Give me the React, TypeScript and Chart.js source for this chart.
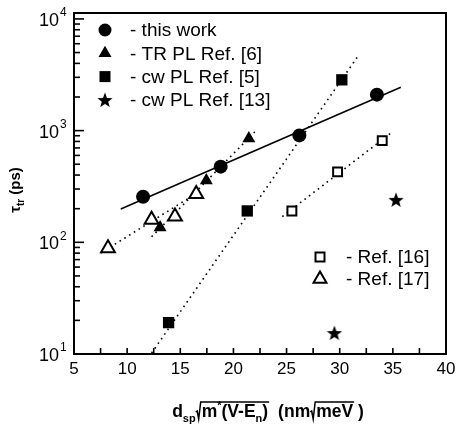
import React, { useEffect, useRef } from 'react';
import { Chart, registerables } from 'chart.js';
Chart.register(...registerables);

// ---- data ----
const thisWorkX = [11.5, 18.8, 26.2, 33.5];
const thisWorkY = [256, 476, 906, 2100];
const trPlX = [13.1, 17.45, 21.45];
const trPlY = [136, 357, 850];
const cwPl5X = [13.9, 21.3, 30.2];
const cwPl5Y = [19.1, 191, 2850];
const cwPl13X = [29.5, 35.3];
const cwPl13Y = [15.4, 240];
const ref16X = [25.5, 29.8, 34.0];
const ref16Y = [191, 427, 814];
const ref17X = [8.2, 12.3, 14.5, 16.5];
const ref17Y = [88.5, 159, 170, 271];

const fitThisWorkX = [9.4, 35.75];
const fitThisWorkY = [199, 2450];
const fitTrPlX = [12.3, 22.2];
const fitTrPlY = [112, 1015];
const fitCw5X = [12.3, 31.8];
const fitCw5Y = [10.2, 4760];
const fitRef16X = [24.6, 34.8];
const fitRef16Y = [170, 948];
const fitRef17X = [7.5, 16.8];
const fitRef17Y = [80, 285];

const xTickLabels = [5, 10, 15, 20, 25, 30, 35, 40];
const yDecades = [1, 2, 3, 4];

const legendTop = [
  { style: 'circle', text: '- this work' },
  { style: 'triangle', text: '- TR PL Ref. [6]' },
  { style: 'rect', text: '- cw PL Ref. [5]' },
  { style: 'star', text: '- cw PL Ref. [13]' },
];
const legendBottom = [
  { style: 'openRect', text: '- Ref. [16]' },
  { style: 'openTriangle', text: '- Ref. [17]' },
];

const FONT = '"Liberation Sans", Arial, Helvetica, sans-serif';

function pts(xs: number[], ys: number[]) {
  return xs.map((x, i) => ({ x, y: ys[i] }));
}

function makeStar(size: number) {
  const c = document.createElement('canvas');
  c.width = size;
  c.height = size;
  const g = c.getContext('2d')!;
  const cx = size / 2, cy = size / 2 + 0.6;
  const R = size / 2, r = R * 0.42;
  g.beginPath();
  for (let i = 0; i < 10; i++) {
    const a = -Math.PI / 2 + (i * Math.PI) / 5;
    const rad = i % 2 === 0 ? R : r;
    const px = cx + rad * Math.cos(a), py = cy + rad * Math.sin(a);
    if (i === 0) g.moveTo(px, py); else g.lineTo(px, py);
  }
  g.closePath();
  g.fillStyle = '#000';
  g.fill();
  return c;
}

function drawMarker(ctx: CanvasRenderingContext2D, style: string, x: number, y: number, star: HTMLCanvasElement) {
  ctx.save();
  ctx.fillStyle = '#000';
  ctx.strokeStyle = '#000';
  if (style === 'circle') {
    ctx.beginPath(); ctx.arc(x, y, 6.5, 0, Math.PI * 2); ctx.fill();
  } else if (style === 'triangle' || style === 'openTriangle') {
    const r = 7.5;
    ctx.beginPath();
    ctx.moveTo(x, y - r);
    ctx.lineTo(x + r * Math.sin(2 * Math.PI / 3), y - r * Math.cos(2 * Math.PI / 3));
    ctx.lineTo(x + r * Math.sin(4 * Math.PI / 3), y - r * Math.cos(4 * Math.PI / 3));
    ctx.closePath();
    if (style === 'triangle') ctx.fill();
    else { ctx.fillStyle = '#fff'; ctx.fill(); ctx.lineWidth = 2; ctx.stroke(); }
  } else if (style === 'rect') {
    ctx.fillRect(x - 5.5, y - 5.5, 11, 11);
  } else if (style === 'openRect') {
    ctx.fillStyle = '#fff';
    ctx.fillRect(x - 4.5, y - 4.5, 9, 9);
    ctx.lineWidth = 2;
    ctx.strokeRect(x - 4.5, y - 4.5, 9, 9);
  } else if (style === 'star') {
    ctx.drawImage(star, x - star.width / 2, y - star.height / 2);
  }
  ctx.restore();
}

export default function App() {
  const ref = useRef<HTMLCanvasElement | null>(null);

  useEffect(() => {
    const canvas = ref.current!;
    const star = makeStar(16);

    const decor = {
      id: 'decor',
      afterDraw(chart: any) {
        const ctx: CanvasRenderingContext2D = chart.ctx;
        const { left, right, top, bottom } = chart.chartArea;
        const xs = chart.scales.x, ys = chart.scales.y;
        ctx.save();
        ctx.strokeStyle = '#000';
        ctx.fillStyle = '#000';
        // frame
        ctx.lineWidth = 2;
        ctx.strokeRect(left, top, right - left, bottom - top);
        // y ticks (inward)
        ctx.lineWidth = 1.6;
        for (const e of [1, 2, 3]) {
          for (let m = 1; m <= 9; m++) {
            const v = m * Math.pow(10, e);
            const py = ys.getPixelForValue(v);
            const len = m === 1 ? 10 : 6;
            ctx.beginPath(); ctx.moveTo(left, py); ctx.lineTo(left + len, py); ctx.stroke();
          }
        }
        {
          const py = ys.getPixelForValue(10000);
          ctx.beginPath(); ctx.moveTo(left, py); ctx.lineTo(left + 10, py); ctx.stroke();
        }
        // x ticks (inward)
        for (let v = 7.5; v < 40; v += 2.5) {
          const px = xs.getPixelForValue(v);
          ctx.beginPath(); ctx.moveTo(px, bottom); ctx.lineTo(px, bottom - 6); ctx.stroke();
        }
        // x tick labels
        ctx.font = `17px ${FONT}`;
        ctx.textAlign = 'center';
        ctx.textBaseline = 'middle';
        for (const v of xTickLabels) {
          ctx.fillText(String(v), xs.getPixelForValue(v), bottom + 15);
        }
        // y tick labels 10^n
        for (const e of yDecades) {
          const py = ys.getPixelForValue(Math.pow(10, e));
          ctx.font = `18px ${FONT}`;
          ctx.textAlign = 'right';
          ctx.textBaseline = 'middle';
          ctx.fillText('10', 59, py + 2);
          ctx.font = `12px ${FONT}`;
          ctx.textAlign = 'left';
          ctx.fillText(String(e), 60, py - 6);
        }
        // legends
        ctx.font = `19px ${FONT}`;
        ctx.textAlign = 'left';
        ctx.textBaseline = 'middle';
        legendTop.forEach((it, i) => {
          const y = 30 + i * 23.3;
          drawMarker(ctx, it.style, 105, y, star);
          ctx.fillText(it.text, 130, y + 1);
        });
        legendBottom.forEach((it, i) => {
          const y = 257 + i * 22;
          drawMarker(ctx, it.style, 320, y, star);
          ctx.fillText(it.text, 346, y + 1);
        });

        // x axis title
        const base = 417;
        const big = `bold 17.5px ${FONT}`;
        const small = `bold 11px ${FONT}`;
        type Piece = { t?: string; f?: string; dy?: number; rad?: 'start' | 'end'; gap?: number };
        const pieces: Piece[] = [
          { t: 'd', f: big },
          { t: 'sp', f: small, dy: 5 },
          { rad: 'start' },
          { t: 'm', f: big },
          { t: '*', f: small, dy: -8 },
          { t: '(V-E', f: big },
          { t: 'n', f: small, dy: 5 },
          { t: ')', f: big },
          { rad: 'end' },
          { gap: 10 },
          { t: '(nm', f: big },
          { rad: 'start' },
          { t: 'meV', f: big },
          { rad: 'end' },
          { t: ' )', f: big },
        ];
        let total = 0;
        for (const p of pieces) {
          if (p.t) { ctx.font = p.f!; total += ctx.measureText(p.t).width; }
          else if (p.rad === 'start') total += 6;
          else if (p.gap) total += p.gap;
        }
        let cx = 268 - total / 2;
        let radStart = 0;
        ctx.textAlign = 'left';
        ctx.textBaseline = 'alphabetic';
        ctx.lineWidth = 1.5;
        for (const p of pieces) {
          if (p.t) {
            ctx.font = p.f!;
            ctx.fillText(p.t, cx, base + (p.dy || 0));
            cx += ctx.measureText(p.t).width;
          } else if (p.rad === 'start') {
            radStart = cx;
            cx += 6;
          } else if (p.rad === 'end') {
            const x0 = radStart;
            ctx.beginPath();
            ctx.moveTo(x0, base - 5);
            ctx.lineTo(x0 + 1.5, base - 6);
            ctx.lineTo(x0 + 3, base + 2);
            ctx.lineTo(x0 + 5, base - 15);
            ctx.lineTo(cx + 1, base - 15);
            ctx.stroke();
          } else if (p.gap) {
            cx += p.gap;
          }
        }

        // y axis title (rotated)
        ctx.save();
        ctx.translate(20, 190);
        ctx.rotate(-Math.PI / 2);
        const yBig = `bold 15px ${FONT}`;
        const ySmall = `bold 10px ${FONT}`;
        const yp = [
          { t: 'τ', f: yBig, dy: 0 },
          { t: 'tr', f: ySmall, dy: 4 },
          { t: ' (ps)', f: yBig, dy: 0 },
        ];
        let yt = 0;
        for (const p of yp) { ctx.font = p.f; yt += ctx.measureText(p.t).width; }
        let yx = -yt / 2;
        for (const p of yp) {
          ctx.font = p.f;
          ctx.fillText(p.t, yx, p.dy);
          yx += ctx.measureText(p.t).width;
        }
        ctx.restore();

        ctx.restore();
      },
    };

    const lineDs = (xs: number[], ys: number[], dashed: boolean) => ({
      data: pts(xs, ys),
      showLine: true,
      borderColor: '#000',
      borderWidth: 1.6,
      borderDash: dashed ? [1.6, 4] : [],
      pointRadius: 0,
      fill: false,
      order: 10,
    });

    const chart = new Chart(canvas, {
      type: 'scatter',
      data: {
        datasets: [
          { data: pts(thisWorkX, thisWorkY), pointStyle: 'circle', pointRadius: 7, backgroundColor: '#000', borderColor: '#000', borderWidth: 0, order: 0 },
          { data: pts(trPlX, trPlY), pointStyle: 'triangle', pointRadius: 7.5, backgroundColor: '#000', borderColor: '#000', borderWidth: 0, order: 0 },
          { data: pts(cwPl5X, cwPl5Y), pointStyle: 'rect', pointRadius: 8, backgroundColor: '#000', borderColor: '#000', borderWidth: 0, order: 0 },
          { data: pts(cwPl13X, cwPl13Y), pointStyle: star as any, pointRadius: 8, backgroundColor: '#000', borderColor: '#000', order: 0 },
          { data: pts(ref16X, ref16Y), pointStyle: 'rect', pointRadius: 6.3, backgroundColor: '#fff', borderColor: '#000', borderWidth: 2, order: 0 },
          { data: pts(ref17X, ref17Y), pointStyle: 'triangle', pointRadius: 8, backgroundColor: '#fff', borderColor: '#000', borderWidth: 2, order: 1 },
          lineDs(fitThisWorkX, fitThisWorkY, false),
          lineDs(fitTrPlX, fitTrPlY, true),
          lineDs(fitCw5X, fitCw5Y, true),
          lineDs(fitRef16X, fitRef16Y, true),
          lineDs(fitRef17X, fitRef17Y, true),
        ] as any,
      },
      options: {
        responsive: false,
        animation: false,
        devicePixelRatio: 1,
        layout: { padding: { left: 74, right: 10, top: 13, bottom: 74 } },
        scales: {
          x: { type: 'linear', min: 5, max: 40, display: false },
          y: { type: 'logarithmic', min: 10, max: 11300, display: false },
        },
        plugins: { legend: { display: false }, tooltip: { enabled: false } },
        events: [],
      },
      plugins: [decor],
    });
    return () => chart.destroy();
  }, []);

  return (
    <div style={{ position: 'fixed', left: 0, top: 0, width: 456, height: 428, background: '#fff' }}>
      <canvas ref={ref} width={456} height={428} style={{ width: 456, height: 428 }} />
    </div>
  );
}
